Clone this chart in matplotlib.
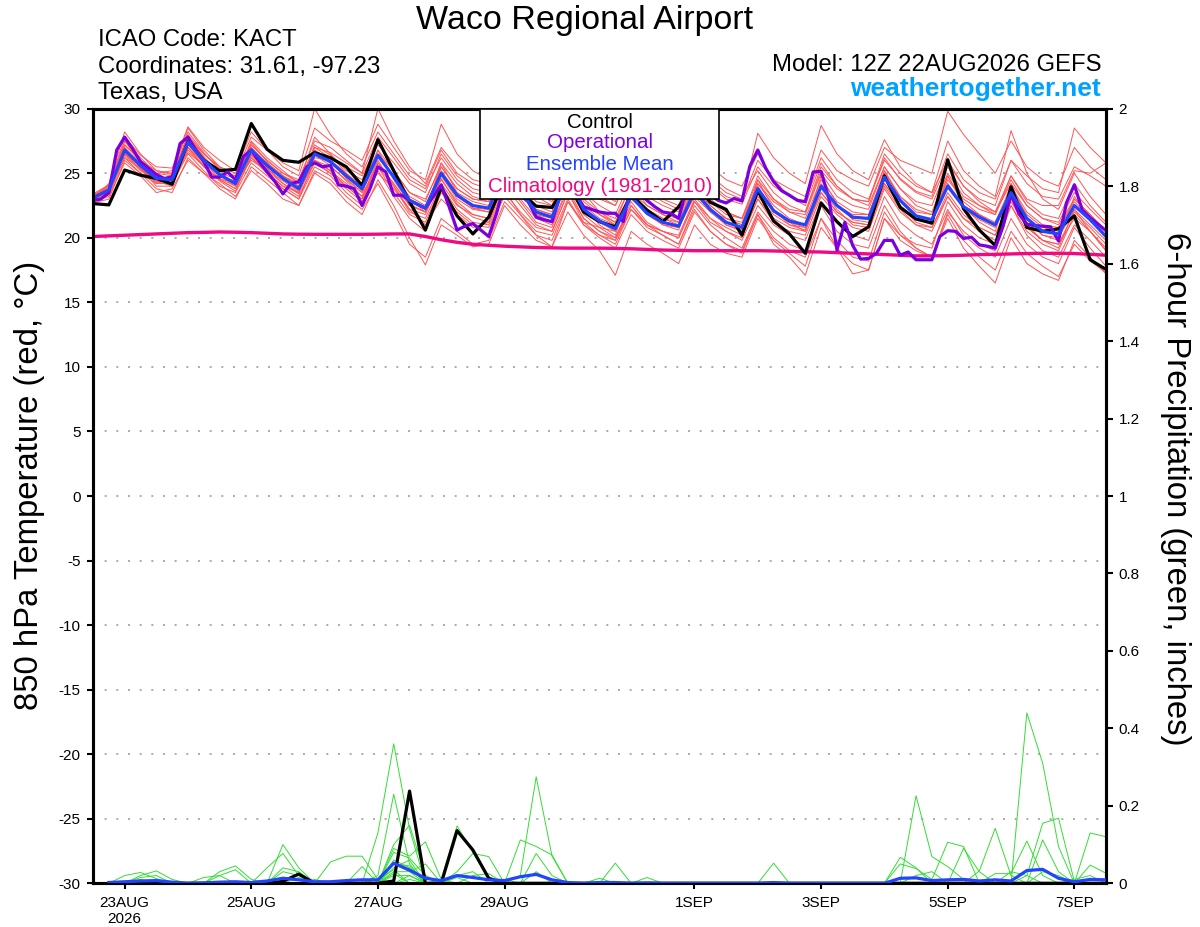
import matplotlib
matplotlib.use("Agg")
import matplotlib.pyplot as plt
from matplotlib.patches import Rectangle
from matplotlib.ticker import FormatStrFormatter
import numpy as np
import pandas as pd

plt.rcParams['font.family'] = ['Liberation Sans', 'DejaVu Sans']
plt.rcParams['axes.unicode_minus'] = False

W, H = 1200, 927

# ---- 850 hPa temperature (deg C), 6-hourly from 12Z 22AUG ----
ens_mean = [23.1, 23.7, 26.8, 25.6, 24.6, 24.5, 27.4, 26.0, 24.9, 24.2, 26.8, 25.6, 24.6, 23.8, 26.5, 25.9,
            24.8, 23.8, 26.4, 24.7, 22.9, 22.3, 25.0, 23.3, 22.5, 22.3, 25.0, 23.6, 22.0, 21.6, 24.6, 22.2,
            21.3, 20.7, 23.2, 21.9, 21.2, 20.9, 23.6, 22.2, 21.2, 20.8, 23.8, 22.1, 21.3, 21.0, 24.0, 22.5,
            21.6, 21.5, 24.7, 22.9, 21.7, 21.4, 24.0, 22.4, 21.6, 21.0, 23.5, 21.5, 20.5, 20.3, 22.5, 21.4, 20.1]

control = [22.65, 22.55, 25.25, 24.85, 24.6, 24.15, 27.45, 26.0, 25.2, 25.3, 28.85, 26.85, 26.0, 25.85, 26.6, 26.2,
           25.5, 24.05, 27.6, 25.2, 22.8, 20.6, 23.9, 21.7, 20.3, 21.6, 24.5, 23.5, 22.45, 22.35, 24.3, 22.0,
           21.25, 20.85, 23.3, 22.15, 21.25, 22.4, 24.2, 22.75, 22.2, 20.2, 23.65, 21.3, 20.3, 18.8, 22.7, 21.25,
           20.1, 20.85, 24.8, 22.35, 21.45, 21.15, 26.05, 22.25, 20.6, 19.4, 23.95, 20.8, 20.5, 20.7, 21.7, 18.3, 17.55]

climatology = [20.10, 20.15, 20.20, 20.25, 20.30, 20.35, 20.40, 20.42, 20.45, 20.43, 20.40, 20.35, 20.30, 20.28, 20.27, 20.27,
               20.27, 20.27, 20.28, 20.30, 20.30, 20.10, 19.85, 19.65, 19.50, 19.42, 19.35, 19.30, 19.25, 19.22, 19.20, 19.20,
               19.20, 19.18, 19.15, 19.10, 19.05, 19.03, 19.00, 19.00, 19.00, 19.00, 19.00, 18.98, 18.95, 18.92, 18.90, 18.85,
               18.80, 18.75, 18.70, 18.65, 18.60, 18.60, 18.62, 18.65, 18.70, 18.72, 18.75, 18.78, 18.80, 18.80, 18.78, 18.72, 18.65]

# operational run, 3-hourly
operational = [22.9, 23.0, 23.5, 26.8, 27.8, 26.9, 25.9, 25.4, 24.9, 24.6, 24.7, 27.3, 27.8, 26.8, 25.9, 24.7,
               24.7, 25.1, 24.5, 26.3, 26.8, 25.9, 25.1, 24.35, 23.4, 24.2, 24.35, 25.5, 25.8, 25.5, 25.6, 24.1,
               24.0, 23.8, 22.5, 23.8, 25.5, 25.1, 23.3, 23.3, 22.9, 22.6, 22.3, 23.2, 24.1, 22.4, 20.6, 20.9,
               21.1, 20.6, 20.1, 21.9, 24.2, 23.8, 23.3, 22.8, 21.6, 21.4, 21.25, 23.2, 24.6, 23.4, 22.4, 22.2,
               22.0, 21.9, 21.9, 21.25, 24.2, 23.5, 22.9, 22.4, 22.0, 21.9, 21.5, 23.8, 24.6, 23.6, 23.3, 22.9,
               22.7, 23.05, 22.85, 25.55, 26.8, 25.4, 24.35, 23.65, 23.3, 22.9, 22.8, 25.1, 25.15, 23.0, 19.05, 21.2,
               19.4, 18.35, 18.4, 18.8, 19.8, 19.8, 18.65, 18.9, 18.3, 18.3, 18.3, 20.1, 20.55, 20.5, 19.95, 20.05,
               19.45, 19.35, 19.2, 20.9, 23.4, 21.85, 21.05, 20.95, 20.9, 20.85, 19.75, 22.7, 24.1, 22.15, 21.55, 21.05,
               20.55]

# ensemble members
mem01 = [23.3, 24.0, 27.5, 26.2, 25.0, 24.8, 28.0, 26.5, 25.5, 25.0, 27.8, 26.8, 25.8, 25.2, 30.0, 28.0,
         26.5, 25.5, 28.2, 26.5, 24.8, 24.0, 26.8, 25.0, 24.2, 23.8, 26.5, 25.0, 23.8, 23.0, 25.8, 24.0,
         23.2, 22.5, 25.0, 23.6, 22.8, 22.2, 25.2, 24.0, 23.0, 22.6, 25.5, 24.0, 23.2, 22.8, 26.2, 24.5,
         23.5, 23.0, 26.0, 24.6, 23.6, 23.2, 26.5, 24.5, 23.5, 23.0, 26.0, 24.2, 23.2, 23.0, 25.5, 24.8, 24.0]
mem02 = [23.0, 23.5, 26.5, 25.5, 24.3, 24.6, 27.8, 26.3, 25.0, 24.6, 27.2, 26.0, 25.0, 24.5, 27.5, 27.0,
         26.0, 25.0, 30.0, 27.5, 25.5, 24.2, 27.0, 25.5, 24.5, 24.2, 27.5, 26.0, 24.5, 23.5, 26.8, 24.8,
         23.5, 22.8, 25.5, 24.0, 23.5, 23.0, 26.0, 24.2, 23.2, 22.8, 26.0, 24.5, 23.8, 23.2, 26.8, 25.2,
         24.5, 24.0, 27.0, 26.0, 25.5, 25.0, 29.8, 28.0, 26.5, 25.0, 27.5, 25.5, 24.5, 24.0, 27.0, 25.5, 24.5]
mem03 = [22.8, 23.2, 25.8, 24.8, 23.5, 23.8, 26.0, 25.0, 24.2, 23.2, 25.2, 24.2, 23.0, 22.5, 25.0, 24.2,
         22.8, 21.8, 24.5, 22.5, 20.0, 17.9, 21.0, 20.2, 19.3, 19.5, 22.5, 21.0, 19.8, 19.3, 22.0, 20.2,
         19.0, 17.1, 20.5, 19.5, 18.8, 18.0, 21.0, 19.5, 18.8, 18.5, 21.5, 19.8, 18.8, 17.8, 21.5, 19.8,
         18.5, 18.2, 22.0, 20.2, 19.2, 18.5, 21.8, 19.8, 18.5, 17.5, 20.5, 18.8, 17.8, 17.0, 19.5, 18.2, 17.3]
mem04 = [23.2, 23.9, 27.2, 26.0, 24.8, 24.2, 27.0, 25.8, 24.6, 24.0, 26.5, 25.2, 24.2, 23.5, 26.2, 26.0,
         25.0, 24.0, 26.8, 25.2, 23.5, 22.8, 25.8, 24.2, 23.2, 22.8, 25.5, 24.2, 22.8, 22.5, 25.2, 23.0,
         22.0, 21.5, 24.0, 22.8, 22.0, 21.5, 24.5, 23.0, 22.0, 21.5, 24.8, 23.0, 22.0, 21.8, 25.0, 23.2,
         22.5, 22.2, 25.5, 23.8, 22.5, 22.0, 25.0, 23.2, 22.5, 21.8, 24.5, 22.5, 21.5, 21.2, 23.5, 22.2, 21.0]
mem05 = [22.9, 23.4, 26.4, 25.2, 24.4, 24.0, 26.8, 25.5, 24.5, 23.8, 26.2, 25.0, 24.0, 23.2, 25.8, 25.0,
         24.0, 23.0, 25.5, 24.0, 22.0, 21.5, 24.2, 22.5, 21.8, 21.5, 24.2, 22.8, 21.2, 20.8, 23.8, 21.5,
         20.5, 20.0, 22.5, 21.0, 20.5, 20.0, 22.8, 21.2, 20.5, 20.0, 23.0, 21.2, 20.5, 20.2, 23.2, 21.8,
         20.8, 20.5, 23.8, 22.0, 21.0, 20.5, 23.2, 21.5, 20.8, 20.2, 22.8, 20.8, 19.8, 19.5, 21.5, 20.5, 19.2]
mem06 = [23.0, 24.2, 28.2, 26.5, 25.2, 25.0, 28.5, 26.8, 25.5, 24.5, 27.5, 26.2, 25.2, 24.2, 27.8, 26.5,
         25.2, 24.5, 27.5, 25.0, 23.0, 22.0, 25.5, 23.8, 23.0, 22.8, 26.2, 24.5, 23.2, 22.5, 25.5, 23.5,
         22.5, 21.8, 24.5, 23.2, 22.5, 22.0, 25.5, 24.5, 23.5, 23.0, 28.1, 26.2, 25.0, 24.2, 28.7, 26.5,
         25.2, 24.5, 27.6, 25.5, 24.2, 23.5, 26.0, 24.0, 22.8, 22.0, 24.2, 22.5, 21.5, 21.0, 23.0, 21.8, 20.5]
mem07 = [23.1, 23.6, 26.6, 25.5, 24.8, 24.4, 27.2, 25.8, 24.8, 24.0, 26.4, 25.3, 24.4, 23.6, 26.0, 25.2,
         24.2, 23.2, 25.8, 24.2, 22.5, 22.0, 24.5, 22.8, 21.8, 21.5, 24.0, 22.5, 21.0, 20.5, 23.5, 21.2,
         20.2, 19.5, 22.2, 20.8, 20.2, 19.5, 22.5, 21.0, 20.0, 19.2, 22.0, 20.5, 19.5, 19.0, 22.5, 20.5,
         19.5, 19.2, 22.5, 20.5, 19.2, 18.5, 21.5, 19.2, 17.8, 16.5, 20.0, 18.0, 17.2, 16.7, 19.8, 18.5, 17.2]
mem08 = [23.4, 24.1, 27.0, 25.8, 25.0, 25.2, 28.2, 26.6, 25.2, 24.8, 27.0, 25.8, 24.8, 24.0, 27.0, 26.2,
         25.5, 24.8, 27.2, 25.8, 24.2, 23.5, 26.5, 24.8, 23.8, 23.5, 26.0, 24.8, 23.5, 23.2, 26.5, 24.2,
         23.0, 22.5, 25.2, 23.8, 23.0, 22.5, 25.8, 24.8, 23.8, 23.2, 25.2, 23.5, 22.5, 22.0, 25.2, 23.8,
         23.0, 22.8, 26.2, 24.5, 23.5, 23.0, 25.8, 24.0, 23.0, 22.5, 26.0, 24.8, 23.8, 23.5, 28.5, 27.0, 25.8]
mem09 = [22.7, 23.0, 26.0, 25.0, 24.2, 24.2, 26.5, 25.2, 24.0, 23.5, 25.8, 24.8, 23.8, 23.0, 25.5, 24.8,
         23.5, 22.5, 25.2, 23.2, 21.5, 20.5, 23.5, 22.0, 21.0, 20.8, 23.2, 21.8, 20.5, 20.2, 23.0, 21.0,
         20.0, 19.2, 21.8, 20.5, 19.8, 19.2, 22.0, 20.5, 19.5, 19.0, 21.8, 19.5, 18.5, 17.1, 20.8, 19.2,
         18.0, 17.5, 21.5, 19.8, 19.0, 18.5, 22.0, 20.5, 19.5, 19.0, 22.5, 20.2, 19.0, 18.5, 21.0, 19.8, 18.5]
mem10 = [23.0, 23.8, 27.5, 25.8, 24.5, 24.6, 27.9, 26.2, 24.8, 24.3, 27.4, 25.9, 24.5, 23.8, 27.2, 26.4,
         25.0, 23.6, 26.8, 24.5, 22.6, 22.0, 25.8, 23.5, 22.3, 22.0, 25.6, 23.8, 21.8, 21.2, 25.0, 22.4,
         21.0, 20.2, 23.8, 22.0, 21.0, 20.6, 24.2, 22.2, 21.0, 20.5, 24.5, 22.2, 21.0, 20.6, 24.8, 22.6,
         21.4, 21.2, 25.2, 23.0, 21.5, 21.0, 24.8, 22.5, 21.2, 20.5, 24.2, 21.5, 20.2, 19.8, 23.2, 21.6, 20.0]
mem11 = [23.3, 23.8, 26.2, 25.4, 24.5, 24.8, 26.6, 25.6, 24.5, 24.4, 26.0, 25.2, 24.8, 24.2, 26.0, 25.5,
         24.5, 23.5, 25.0, 23.8, 22.2, 21.0, 23.0, 21.8, 20.8, 21.2, 24.5, 23.2, 22.2, 21.8, 24.2, 22.5,
         21.8, 21.0, 23.0, 22.0, 21.2, 20.8, 23.2, 22.0, 21.5, 21.0, 23.2, 21.8, 21.0, 20.8, 23.5, 22.0,
         21.2, 21.0, 24.2, 22.5, 21.5, 21.5, 24.5, 23.0, 22.2, 21.8, 24.8, 23.0, 22.5, 22.5, 25.2, 25.0, 25.8]
mem12 = [23.2, 24.0, 27.8, 26.4, 25.5, 25.4, 28.6, 27.0, 26.0, 25.2, 28.2, 26.8, 25.5, 24.8, 28.5, 27.5,
         26.8, 26.0, 28.8, 27.0, 25.2, 24.5, 28.8, 26.5, 25.2, 24.5, 27.0, 25.2, 23.5, 22.8, 25.2, 22.8,
         21.8, 21.2, 23.5, 22.2, 21.5, 21.0, 23.8, 22.5, 21.5, 21.2, 24.2, 22.8, 22.0, 21.5, 24.5, 22.8,
         22.0, 21.8, 25.0, 23.2, 22.2, 21.8, 24.2, 22.5, 21.8, 21.2, 24.0, 22.0, 21.0, 20.8, 22.8, 21.5, 20.2]
mem13 = [22.8, 23.3, 26.2, 25.0, 23.8, 23.5, 26.2, 25.0, 23.8, 23.0, 25.5, 24.5, 23.5, 22.5, 25.2, 24.5,
         23.2, 22.2, 24.2, 22.0, 19.5, 18.5, 21.5, 20.5, 19.5, 19.8, 22.8, 21.5, 20.2, 19.8, 22.8, 21.0,
         20.2, 19.8, 22.2, 21.0, 20.5, 20.2, 23.0, 21.5, 20.8, 20.2, 23.0, 21.5, 20.8, 20.5, 23.8, 22.2,
         21.0, 20.8, 24.0, 22.2, 21.0, 20.8, 23.5, 21.8, 20.8, 20.2, 23.2, 21.0, 19.8, 19.5, 22.0, 20.8, 19.5]
mem14 = [23.1, 23.5, 26.9, 25.7, 24.7, 24.3, 27.3, 26.1, 25.0, 24.1, 26.6, 25.5, 24.6, 23.8, 26.8, 26.0,
         24.6, 23.5, 26.2, 24.8, 23.2, 22.5, 25.2, 23.5, 22.8, 22.5, 25.8, 24.0, 22.5, 22.0, 26.5, 23.5,
         22.0, 21.2, 24.2, 22.5, 21.8, 21.2, 24.0, 22.5, 21.5, 21.0, 24.2, 22.5, 21.5, 21.0, 24.2, 22.5,
         21.8, 21.8, 25.2, 23.2, 22.0, 21.8, 24.8, 22.8, 21.8, 21.0, 23.8, 21.8, 20.8, 20.5, 23.0, 21.8, 20.5]
mem15 = [22.9, 23.7, 27.0, 25.4, 24.2, 24.7, 27.6, 26.2, 24.7, 24.4, 27.0, 25.4, 24.2, 23.4, 26.4, 25.6,
         24.4, 23.2, 26.0, 24.0, 22.2, 21.8, 24.6, 22.6, 21.6, 21.2, 23.8, 21.8, 20.2, 19.3, 22.8, 21.2,
         20.8, 20.5, 23.5, 22.5, 21.8, 21.5, 24.5, 23.0, 22.0, 21.5, 24.0, 22.0, 21.2, 20.5, 23.5, 22.0,
         21.2, 21.0, 24.2, 22.5, 21.2, 20.8, 23.2, 21.5, 20.5, 19.8, 22.5, 20.5, 19.5, 19.0, 21.8, 20.5, 19.0]
mem16 = [23.2, 23.6, 26.6, 25.6, 24.6, 24.6, 27.5, 26.0, 24.8, 24.2, 26.8, 25.8, 24.8, 24.0, 26.8, 25.8,
         24.8, 24.0, 26.5, 25.2, 23.5, 23.0, 25.5, 23.8, 23.0, 22.8, 25.2, 23.8, 22.2, 21.8, 24.8, 22.5,
         21.5, 21.0, 23.5, 22.2, 21.5, 21.2, 24.2, 22.8, 21.8, 21.5, 24.5, 23.0, 22.2, 22.0, 25.5, 24.0,
         23.0, 22.8, 26.5, 25.0, 24.0, 23.5, 27.5, 25.2, 24.0, 23.2, 28.3, 25.0, 23.0, 22.2, 25.0, 23.2, 21.8]
mem17 = [23.0, 23.5, 26.5, 25.3, 24.5, 24.5, 27.0, 25.5, 24.5, 23.8, 26.2, 25.0, 24.0, 23.5, 26.0, 25.2,
         24.0, 23.0, 25.8, 24.2, 22.5, 22.0, 24.8, 23.0, 22.2, 22.0, 24.5, 23.0, 21.5, 21.0, 24.0, 21.8,
         20.8, 20.0, 22.8, 21.2, 20.5, 20.0, 22.8, 21.5, 20.5, 19.8, 22.5, 21.0, 20.2, 19.8, 22.8, 21.2,
         20.2, 19.8, 23.2, 21.2, 20.2, 19.5, 22.2, 20.2, 19.2, 18.5, 21.5, 19.5, 18.5, 18.0, 20.8, 19.2, 17.8]
mem18 = [23.1, 23.7, 26.7, 25.6, 24.4, 24.4, 27.3, 26.0, 24.9, 24.3, 26.9, 25.6, 24.6, 23.9, 26.6, 25.8,
         24.8, 23.8, 26.5, 24.6, 22.8, 22.2, 25.0, 23.2, 22.3, 22.2, 25.0, 23.5, 21.8, 21.5, 24.5, 22.0,
         21.2, 20.5, 23.2, 21.8, 21.0, 20.8, 23.5, 22.0, 21.0, 20.6, 23.8, 22.0, 21.2, 20.8, 24.0, 22.5,
         21.5, 21.5, 24.8, 22.8, 21.6, 21.2, 24.2, 22.2, 21.4, 20.8, 23.5, 21.2, 20.2, 20.0, 22.2, 21.0, 19.8]
mem19 = [23.3, 24.0, 27.2, 26.0, 25.2, 24.9, 27.8, 26.5, 25.4, 24.6, 27.2, 26.0, 25.0, 24.3, 27.0, 26.6,
         25.8, 25.0, 27.8, 26.2, 24.5, 23.8, 26.2, 24.5, 23.5, 23.2, 26.8, 25.5, 24.2, 23.8, 27.2, 25.0,
         24.0, 23.5, 26.5, 25.0, 24.2, 23.8, 27.2, 25.5, 24.5, 24.0, 26.5, 24.5, 23.2, 22.5, 25.8, 24.0,
         23.0, 22.5, 25.5, 23.8, 22.8, 22.5, 25.5, 23.5, 22.5, 22.0, 24.8, 22.8, 21.8, 21.5, 24.2, 22.5, 21.2]
mem20 = [22.8, 23.4, 26.8, 25.4, 24.0, 24.0, 27.0, 25.6, 24.4, 23.6, 26.4, 25.0, 23.8, 23.0, 26.0, 25.0,
         23.8, 22.8, 25.5, 23.5, 21.8, 21.2, 24.0, 22.2, 21.2, 21.0, 23.5, 22.0, 20.8, 20.5, 23.5, 21.5,
         20.5, 19.8, 22.5, 21.0, 20.2, 19.5, 22.2, 20.5, 19.5, 18.8, 21.8, 20.0, 19.0, 18.5, 21.5, 19.2,
         17.2, 17.5, 21.5, 20.2, 19.5, 19.2, 22.8, 21.0, 20.0, 19.5, 23.0, 20.8, 19.8, 19.2, 22.2, 20.5, 19.0]
temp_members = [mem01, mem02, mem03, mem04, mem05, mem06, mem07, mem08, mem09, mem10,
                mem11, mem12, mem13, mem14, mem15, mem16, mem17, mem18, mem19, mem20]

# ---- 6-hour precipitation (inches), valid 18Z 22AUG onward ----
pcp_mean = [.002, .004, .006, .007, .003, 0, .001, .003, .004, .002, .006, .013, .009, .004, .004, .007,
            .009, .009, .052, .034, .013, .007, .02, .015, .009, .007, .017, .023, .009, .002, 0, .002,
            .002, 0, .001, 0, 0, 0, 0, 0, 0, 0, .002, 0, 0, 0, 0, 0,
            0, 0, .013, .014, .007, .009, .01, .006, .009, .006, .033, .036, .013, .004, .01, .009]
pcp_control = [0, 0, 0, 0, 0, 0, 0, 0, 0, 0, 0, .005, .024, 0, 0, 0,
               0, 0, .006, .238, 0, 0, .136, .086, .013, 0, 0, 0, 0, 0, 0, 0,
               0, 0, 0, 0, 0, 0, 0, 0, 0, 0, 0, 0, 0, 0, 0, 0,
               0, 0, 0, 0, 0, 0, 0, 0, 0, 0, 0, 0, 0, 0, 0, 0]

pm01 = [0, .02, .028, .012, 0, 0, 0, 0, 0, 0, 0, 0, 0, 0, 0, 0,
        0, .13, .36, .14, 0, 0, 0, 0, 0, 0, 0, 0, 0, 0, 0, 0,
        0, 0, 0, 0, 0, 0, 0, 0, 0, 0, 0, 0, 0, 0, 0, 0,
        0, 0, 0, 0, 0, 0, 0, 0, 0, 0, .44, .31, .095, 0, 0, 0]
pm02 = [0, 0, .02, .032, .01, 0, 0, 0, 0, 0, 0, 0, 0, 0, 0, 0,
        0, .02, .23, .05, 0, 0, 0, 0, 0, 0, 0, 0, 0, 0, 0, 0,
        0, 0, 0, 0, 0, 0, 0, 0, 0, 0, 0, 0, 0, 0, 0, 0,
        0, 0, 0, .226, .069, .043, .01, 0, 0, 0, 0, 0, 0, 0, 0, 0]
pm03 = [0, 0, .015, .02, 0, 0, 0, .03, .045, .01, 0, 0, 0, 0, 0, 0,
        0, 0, .10, .15, .02, 0, 0, 0, 0, 0, 0, 0, 0, 0, 0, 0,
        0, 0, 0, 0, 0, 0, 0, 0, 0, 0, 0, 0, 0, 0, 0, 0,
        0, 0, 0, 0, 0, 0, 0, 0, 0, 0, 0, 0, 0, 0, .13, .12]
pm04 = [0, 0, 0, 0, 0, 0, 0, .02, .035, 0, 0, .10, .04, 0, 0, 0,
        0, 0, .09, .07, .107, .01, 0, 0, 0, 0, 0, 0, 0, 0, 0, 0,
        0, 0, 0, 0, 0, 0, 0, 0, 0, 0, 0, 0, 0, 0, 0, 0,
        0, 0, 0, 0, 0, 0, 0, .032, .142, .02, 0, 0, 0, 0, 0, 0]
pm05 = [0, 0, 0, 0, 0, 0, 0, 0, 0, 0, .04, .077, .02, 0, 0, 0,
        0, 0, .08, .065, .02, 0, 0, 0, 0, 0, 0, 0, 0, 0, 0, 0,
        0, 0, 0, 0, 0, 0, 0, 0, 0, 0, 0, 0, 0, 0, 0, 0,
        0, 0, 0, 0, 0, 0, 0, 0, 0, 0, .02, .155, .168, .005, 0, 0]
pm06 = [0, 0, 0, 0, 0, 0, 0, 0, 0, 0, 0, .04, .03, 0, .055, .07,
        .07, .01, 0, 0, 0, .01, .148, .08, .01, 0, 0, 0, 0, 0, 0, 0,
        0, 0, 0, 0, 0, 0, 0, 0, 0, 0, 0, 0, 0, 0, 0, 0,
        0, 0, .067, .04, 0, 0, 0, 0, 0, 0, 0, 0, 0, 0, 0, 0]
pm07 = [0, 0, 0, 0, 0, 0, 0, 0, 0, 0, 0, 0, 0, 0, 0, 0,
        .043, 0, .06, .04, 0, 0, .03, .077, .069, 0, 0, 0, 0, 0, 0, 0,
        0, 0, 0, 0, 0, 0, 0, 0, 0, 0, 0, 0, 0, 0, 0, 0,
        0, 0, 0, 0, 0, 0, 0, 0, .025, .025, .109, .02, 0, 0, 0, 0]
pm08 = [0, 0, 0, 0, 0, 0, 0, 0, 0, 0, 0, 0, 0, 0, 0, 0,
        0, 0, 0, 0, 0, 0, 0, 0, 0, 0, .112, .095, .073, 0, 0, 0,
        0, 0, 0, 0, 0, 0, 0, 0, 0, 0, 0, 0, 0, 0, 0, 0,
        0, 0, .05, .038, .01, .106, .095, 0, 0, 0, 0, 0, 0, 0, 0, 0]
pm09 = [0, 0, 0, 0, 0, 0, 0, 0, 0, 0, 0, 0, 0, 0, 0, 0,
        0, 0, 0, 0, 0, 0, 0, 0, 0, 0, .02, .275, .07, 0, 0, 0,
        0, 0, 0, 0, 0, 0, 0, 0, 0, 0, 0, 0, 0, 0, 0, 0,
        0, 0, 0, 0, 0, 0, .09, .03, 0, 0, 0, .112, .03, 0, 0, 0]
pm10 = [0, 0, 0, 0, 0, 0, 0, 0, 0, 0, 0, 0, 0, 0, 0, 0,
        0, 0, 0, 0, 0, 0, 0, 0, 0, 0, 0, .077, .02, 0, 0, 0,
        .052, 0, 0, 0, 0, 0, 0, 0, 0, 0, 0, 0, 0, 0, 0, 0,
        0, 0, 0, 0, 0, 0, 0, 0, 0, 0, 0, 0, 0, 0, .047, .026]
pm11 = [0, 0, 0, 0, 0, 0, 0, 0, 0, 0, 0, 0, 0, 0, 0, 0,
        0, 0, .05, .03, 0, 0, 0, 0, 0, 0, 0, 0, 0, 0, 0, 0,
        0, 0, .015, 0, 0, 0, 0, 0, 0, 0, .052, 0, 0, 0, 0, 0,
        0, 0, 0, 0, 0, 0, 0, 0, 0, 0, 0, 0, 0, 0, 0, 0]
pm12 = [0, 0, 0, 0, 0, 0, 0, 0, 0, 0, 0, 0, 0, 0, 0, 0,
        0, 0, .04, .06, 0, 0, .02, .03, 0, 0, 0, 0, 0, 0, 0, 0,
        0, 0, 0, 0, 0, 0, 0, 0, 0, 0, 0, 0, 0, 0, 0, 0,
        0, 0, 0, 0, 0, 0, 0, 0, 0, .03, .02, 0, 0, 0, 0, 0]
pm13 = [0, 0, 0, 0, 0, 0, 0, 0, 0, 0, 0, 0, 0, 0, 0, 0,
        0, 0, .03, .03, .05, 0, 0, 0, 0, .01, 0, 0, 0, 0, 0, 0,
        0, 0, 0, 0, 0, 0, 0, 0, 0, 0, 0, 0, 0, 0, 0, 0,
        0, 0, 0, .02, .03, 0, 0, 0, 0, 0, 0, 0, 0, 0, 0, 0]
pm14 = [0, 0, 0, 0, 0, 0, 0, 0, 0, 0, 0, 0, 0, .01, 0, 0,
        0, 0, .02, .02, 0, 0, 0, 0, 0, 0, 0, .03, 0, 0, 0, 0,
        0, 0, 0, 0, 0, 0, 0, 0, 0, 0, 0, 0, 0, 0, 0, 0,
        0, 0, 0, 0, 0, 0, 0, 0, 0, 0, 0, .03, .02, 0, 0, 0]
pm15 = [0, 0, 0, 0, 0, 0, .015, .02, 0, 0, 0, 0, 0, 0, 0, 0,
        0, 0, .05, .045, 0, 0, 0, 0, 0, 0, 0, 0, 0, 0, 0, 0,
        0, 0, 0, 0, 0, 0, 0, 0, 0, 0, 0, 0, 0, 0, 0, 0,
        0, 0, 0, 0, 0, 0, 0, 0, 0, 0, 0, 0, 0, 0, 0, 0]
pm16 = [0, 0, 0, 0, 0, 0, 0, 0, 0, 0, 0, .03, .02, 0, 0, 0,
        0, .01, .035, 0, 0, 0, 0, 0, 0, 0, 0, 0, 0, 0, 0, .013,
        0, 0, 0, 0, 0, 0, 0, 0, 0, 0, 0, 0, 0, 0, 0, 0,
        0, 0, 0, 0, 0, 0, 0, 0, 0, 0, 0, 0, 0, 0, 0, 0]
pm17 = [0, 0, 0, 0, 0, 0, 0, 0, 0, 0, 0, 0, 0, 0, 0, 0,
        0, 0, 0, .02, 0, 0, 0, .02, .025, 0, 0, 0, 0, 0, 0, 0,
        0, 0, 0, 0, 0, 0, 0, 0, 0, 0, 0, 0, 0, 0, 0, 0,
        0, 0, 0, 0, 0, 0, 0, 0, 0, 0, 0, 0, 0, .01, .02, 0]
pm18 = [0, 0, .01, 0, 0, 0, 0, 0, 0, 0, 0, 0, 0, 0, 0, 0,
        0, 0, .025, 0, 0, 0, 0, 0, 0, 0, 0, 0, 0, 0, 0, 0,
        0, 0, 0, 0, 0, 0, 0, 0, 0, 0, 0, 0, 0, 0, 0, 0,
        0, 0, 0, 0, 0, 0, 0, 0, 0, 0, 0, 0, 0, 0, 0, 0]
pm19 = [0, 0, 0, 0, 0, 0, 0, 0, 0, 0, 0, 0, .015, 0, 0, 0,
        0, 0, 0, 0, 0, 0, .015, 0, 0, 0, 0, 0, 0, 0, 0, 0,
        0, 0, 0, 0, 0, 0, 0, 0, 0, 0, 0, 0, 0, 0, 0, 0,
        0, 0, 0, 0, 0, 0, 0, 0, 0, 0, 0, 0, 0, 0, 0, 0]
pm20 = [0, 0, 0, 0, 0, 0, 0, 0, 0, 0, 0, 0, 0, 0, 0, 0,
        0, 0, 0, .01, 0, 0, 0, 0, 0, 0, 0, 0, 0, 0, 0, 0,
        0, 0, 0, 0, 0, 0, 0, 0, 0, 0, 0, 0, 0, 0, 0, 0,
        0, 0, 0, 0, 0, 0, 0, 0, 0, 0, 0, 0, 0, 0, 0, 0]
pcp_members = [pm01, pm02, pm03, pm04, pm05, pm06, pm07, pm08, pm09, pm10,
               pm11, pm12, pm13, pm14, pm15, pm16, pm17, pm18, pm19, pm20]

tick_dates = ["2026-08-23", "2026-08-25", "2026-08-27", "2026-08-29",
              "2026-09-01", "2026-09-03", "2026-09-05", "2026-09-07"]
tick_labels = ["23AUG\n2026", "25AUG", "27AUG", "29AUG", "1SEP", "3SEP", "5SEP", "7SEP"]

# time axes
t6 = pd.date_range("2026-08-22 12:00", periods=len(ens_mean), freq="6h")
t3 = pd.date_range("2026-08-22 12:00", periods=len(operational), freq="3h")
tp = t6[1:]

fig = plt.figure(figsize=(W / 100, H / 100), dpi=100)
ax = fig.add_axes([93 / W, 1 - 883.3 / H, 1013 / W, 774.6 / H])
ax2 = ax.twinx()

for m in temp_members:
    ax.plot(t6, m, color='#ff5555', lw=0.7, zorder=2)
ax.plot(t6, climatology, color='#ee0a82', lw=2.4, zorder=3)
ax.plot(t6, control, color='black', lw=2.3, zorder=4)
ax.plot(t3, operational, color='#7b00e0', lw=2.3, zorder=5)
ax.plot(t6, ens_mean, color='#2244ff', lw=2.3, zorder=6)

for p in pcp_members:
    ax2.plot(tp, p, color='#33dd33', lw=0.7, zorder=2)
ax2.plot(tp, pcp_control, color='black', lw=2.3, zorder=3)
ax2.plot(tp, pcp_mean, color='#2244ff', lw=2.3, zorder=4)

ax.set_xlim(t6[0], t6[-1])
ax.set_ylim(-30, 30)
ax.set_yticks(range(-30, 31, 5))
ax2.set_ylim(0, 2)
ax2.set_yticks(np.arange(0, 2.01, 0.2))
ax2.yaxis.set_major_formatter(FormatStrFormatter('%g'))
ax.set_xticks(pd.to_datetime(tick_dates))
ax.set_xticklabels(tick_labels)

ax.set_axisbelow(True)
ax.grid(axis='y', color='#aaaaaa', linestyle=(0, (1, 5)), linewidth=1.4)
ax.grid(axis='x', visible=False)

for a in (ax, ax2):
    for s in a.spines.values():
        s.set_linewidth(2.2)
ax.tick_params(axis='both', direction='out', length=4, width=1.5, labelsize=11, pad=5)
ax2.tick_params(axis='y', direction='out', length=5, width=1.5, labelsize=11, pad=4)

# header texts
fig.text(585 / W, 1 - 29 / H, "Waco Regional Airport", ha='center', va='baseline', fontsize=24.5)
fig.text(98 / W, 1 - 45.7 / H, "ICAO Code: KACT", ha='left', va='baseline', fontsize=17.2)
fig.text(98 / W, 1 - 72.7 / H, "Coordinates: 31.61, -97.23", ha='left', va='baseline', fontsize=17.2)
fig.text(98 / W, 1 - 99.3 / H, "Texas, USA", ha='left', va='baseline', fontsize=17.2)
fig.text(1101 / W, 1 - 70.7 / H, "Model: 12Z 22AUG2026 GEFS", ha='right', va='baseline', fontsize=17.2)
fig.text(1101 / W, 1 - 96 / H, "weathertogether.net", ha='right', va='baseline', fontsize=19,
         color='#00a2ff', weight='bold')

# axis titles
fig.text(30 / W, 1 - 485 / H, "850 hPa Temperature (red, °C)", rotation=90,
         ha='center', va='center', fontsize=23.7)
fig.text(1176 / W, 1 - 489 / H, "6-hour Precipitation (green, inches)", rotation=270,
         ha='center', va='center', fontsize=23.7)

# legend box
fig.add_artist(Rectangle((480 / W, 1 - 199 / H), 239 / W, 90.3 / H, transform=fig.transFigure,
                         facecolor='white', edgecolor='black', lw=1.2, zorder=10))
legend_rows = [("Control", 'black', 127.5), ("Operational", '#8000e0', 148.5),
               ("Ensemble Mean", '#2244ff', 170), ("Climatology (1981-2010)", '#ee0a82', 191.5)]
for txt, col, yb in legend_rows:
    fig.text(600 / W, 1 - yb / H, txt, color=col, ha='center', va='baseline', fontsize=14.8, zorder=11)

fig.savefig("out.png", dpi=100)
